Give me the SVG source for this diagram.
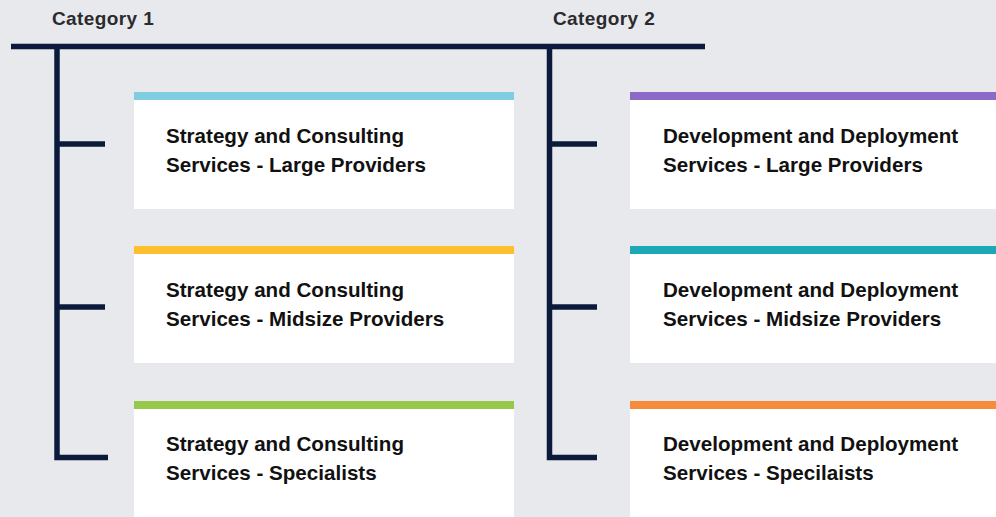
<svg xmlns="http://www.w3.org/2000/svg" width="996" height="517" viewBox="0 0 996 517">
<style>
.bg{fill:#e8e9ed}
.box{fill:#ffffff}
.ln{stroke:#0b1a3b;stroke-width:5.5;fill:none;stroke-linecap:butt;stroke-linejoin:miter}
.cat{font-family:"Liberation Sans",Arial,sans-serif;font-weight:bold;font-size:19px;letter-spacing:0.4px;fill:#2b2b2e}
.t{font-family:"Liberation Sans",Arial,sans-serif;font-weight:bold;font-size:20.6px;fill:#111111}
</style>
<rect class="bg" x="0" y="0" width="996" height="517"/>
<g id="connectors">
<path class="ln" d="M11 46.5H705"/>
<path class="ln" d="M57 46.5V457.5H108M57 144H105M57 307H105"/>
<path class="ln" d="M549.5 46.5V457.5H597M549.5 144H597M549.5 307H597"/>
</g>
<g id="category1"><text class="cat" x="52" y="25">Category 1</text></g>
<g id="category2"><text class="cat" x="553" y="25">Category 2</text></g>
<g id="node-scl">
<rect class="box" x="134" y="92" width="380" height="117"/>
<rect x="134" y="92" width="380" height="8" fill="#80cde2"/>
<text class="t" x="166" y="143">Strategy and Consulting</text>
<text class="t" x="166" y="172">Services - Large Providers</text>
</g>
<g id="node-scm">
<rect class="box" x="134" y="246" width="380" height="117"/>
<rect x="134" y="246" width="380" height="8" fill="#fdbf2c"/>
<text class="t" x="166" y="297">Strategy and Consulting</text>
<text class="t" x="166" y="326">Services - Midsize Providers</text>
</g>
<g id="node-scs">
<rect class="box" x="134" y="401" width="380" height="116"/>
<rect x="134" y="401" width="380" height="8" fill="#98c84a"/>
<text class="t" x="166" y="451">Strategy and Consulting</text>
<text class="t" x="166" y="480">Services - Specialists</text>
</g>
<g id="node-ddl">
<rect class="box" x="630" y="92" width="366" height="117"/>
<rect x="630" y="92" width="366" height="8" fill="#8b6bc7"/>
<text class="t" x="663" y="143">Development and Deployment</text>
<text class="t" x="663" y="172">Services - Large Providers</text>
</g>
<g id="node-ddm">
<rect class="box" x="630" y="246" width="366" height="117"/>
<rect x="630" y="246" width="366" height="8" fill="#1ca9b5"/>
<text class="t" x="663" y="297">Development and Deployment</text>
<text class="t" x="663" y="326">Services - Midsize Providers</text>
</g>
<g id="node-dds">
<rect class="box" x="630" y="401" width="366" height="116"/>
<rect x="630" y="401" width="366" height="8" fill="#f58b3b"/>
<text class="t" x="663" y="451">Development and Deployment</text>
<text class="t" x="663" y="480">Services - Specilaists</text>
</g>
</svg>
